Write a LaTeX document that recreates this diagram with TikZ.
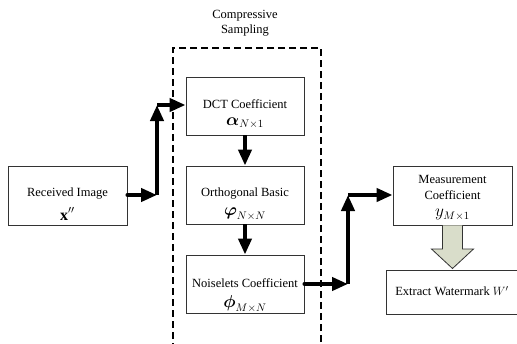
\documentclass[tikz,border=0pt]{standalone}
\usepackage{amsmath}
\usepackage{fontspec}
\setmainfont{Liberation Serif}
\usetikzlibrary{arrows.meta,calc}
\definecolor{hollow}{RGB}{217,221,202}
\begin{document}
\begin{tikzpicture}[x=1pt,y=-1pt,
  box/.style={draw=black!80,line width=0.9pt,minimum width=118pt,minimum height=58pt,inner sep=0pt},
  lbl/.style={font=\fontsize{12.5}{14}\selectfont,inner sep=0pt},
  mth/.style={font=\fontsize{16}{18}\selectfont,inner sep=0pt},
  flow/.style={line width=4pt,-{Triangle[length=16pt,width=13pt]}}
]
\clip (0,0) rectangle (517,343);
\fill[white] (0,0) rectangle (517,343);

% dashed frame
\node[draw,dash pattern=on 7pt off 4pt,line width=2pt,minimum width=148pt,minimum height=300pt,inner sep=0pt,anchor=north west] (cs) at (172,47) {};
\node[lbl] (cs1) at (245,16) {Compressive};
\node[lbl] (cs2) at (245,31) {Sampling};

% boxes
\node[box,minimum width=119pt,minimum height=59pt] (recv) at (67.5,195.5) {};
\node[box] (dct) at (245,106) {};
\node[box] (orth) at (245,195) {};
\node[box] (noise) at (245,284) {};
\node[box,minimum width=119pt,minimum height=59pt] (meas) at (452.5,195.5) {};
\node[box,minimum width=150pt,minimum height=44pt,anchor=north west] (extract) at (386,270) {};

% texts
\node[lbl] (t1) at (67.5,194) {Received Image};
\node[mth] (t1m) at (67.5,214) {$\mathbf{x}''$};
\node[lbl] (t2) at (245,104) {DCT Coefficient};
\node[mth] (t2m) at (245,123) {$\boldsymbol{\alpha}_{N\times 1}$};
\node[lbl] (t3) at (245,194) {Orthogonal Basic};
\node[mth] (t3m) at (245,214) {$\boldsymbol{\varphi}_{N\times N}$};
\node[lbl] (t4) at (245,283) {Noiselets Coefficient};
\node[mth] (t4m) at (245,304) {$\boldsymbol{\phi}_{M\times N}$};
\node[lbl] (t5a) at (452.5,179) {Measurement};
\node[lbl] (t5b) at (452.5,195) {Coefficient};
\node[mth] (t5m) at (452.5,215) {$y_{M\times 1}$};
\node[lbl] (t6) at (452,291) {Extract Watermark $W'$};

% connectors
\coordinate (c1) at (157,195);
\coordinate (c2) at (157,105);
\coordinate (c3) at (348,284);
\coordinate (c4) at (348,195);
\draw[flow,line cap=round] (recv.east |- c1) -- (c1);
\draw[flow] (c1) -- (c2);
\draw[flow] (c2) -- (dct.west |- c2);
\draw[flow] (dct.south) -- (orth.north);
\draw[flow] (orth.south) -- (noise.north);
\draw[flow,line cap=round] (noise.east) -- (c3);
\draw[flow] (c3) -- (c4);
\draw[flow] (c4) -- (meas.west |- c4);

% hollow arrow
\coordinate (h0) at (meas.south);
\coordinate (h1) at (extract.north -| meas.south);
\draw[black!80,line width=0.8pt,fill=hollow]
  ($(h0)+(-10,0)$) -- ($(h1)+(-10,-21)$) -- ($(h1)+(-21,-21)$)
  -- ($(h1)+(0,-1.5)$) -- ($(h1)+(21,-21)$) -- ($(h1)+(10,-21)$)
  -- ($(h0)+(10,0)$);
\end{tikzpicture}
\end{document}
